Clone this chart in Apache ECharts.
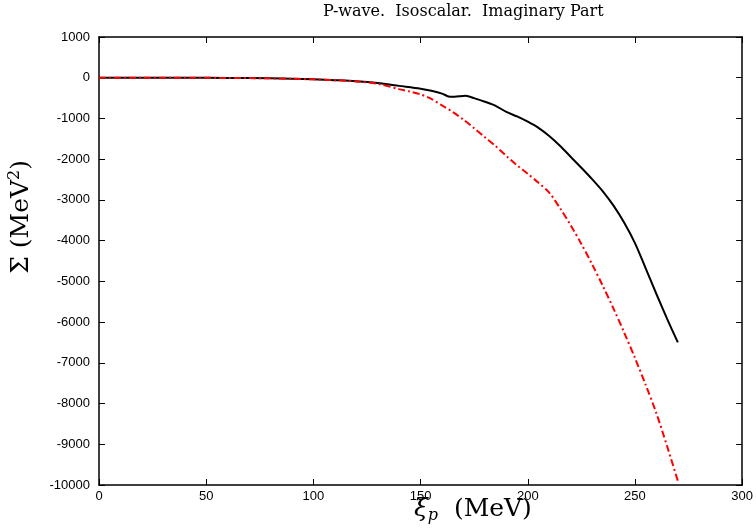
<!DOCTYPE html>
<html><head><meta charset="utf-8">
<script src="https://cdn.jsdelivr.net/npm/echarts@6/dist/echarts.min.js"></script>
<style>html,body{margin:0;padding:0;background:#fff}#c{width:756px;height:529px}</style>
</head><body><div id="c"></div>
<script>
const titleText = 'P-wave.  Isoscalar.  Imaginary Part';
const xTicks = [0, 50, 100, 150, 200, 250, 300];
const yTicks = [1000, 0, -1000, -2000, -3000, -4000, -5000, -6000, -7000, -8000, -9000, -10000];

const blackX = [0, 20, 40, 60, 80, 90, 100, 110, 120, 130, 140, 150, 155, 160, 163, 165, 168, 171, 175, 180, 185, 190, 195, 200, 205, 210, 215, 220, 225, 230, 235, 240, 245, 250, 255, 260, 265, 270];
const blackY = [0, 0, -2, -5, -15, -25, -40, -60, -85, -130, -200, -270, -320, -390, -460, -470, -455, -445, -500, -590, -690, -840, -950, -1080, -1230, -1430, -1670, -1940, -2210, -2490, -2790, -3140, -3560, -4060, -4680, -5310, -5920, -6500];

const redX = [0, 20, 40, 60, 80, 90, 100, 110, 120, 130, 140, 145, 150, 155, 160, 165, 170, 175, 180, 185, 190, 195, 200, 205, 210, 215, 220, 225, 230, 235, 240, 245, 250, 255, 260, 265, 270];
const redY = [0, 0, -2, -5, -15, -25, -40, -60, -90, -150, -280, -340, -410, -520, -680, -840, -1030, -1240, -1460, -1680, -1920, -2150, -2360, -2580, -2820, -3200, -3620, -4080, -4580, -5110, -5670, -6260, -6880, -7540, -8240, -9050, -9900];

const pairs = (xs, ys) => xs.map((x, i) => [x, ys[i]]);
const chart = echarts.init(document.getElementById('c'), null, {renderer: 'canvas'});
const lab = {color: '#000', fontFamily: 'Liberation Sans, Arial, sans-serif', fontSize: 13, formatter: v => String(v)};
const axLine = {show: true, onZero: false, lineStyle: {color: '#000', width: 1.5}};
const tick = {show: true, inside: true, length: 6, lineStyle: {color: '#000', width: 1}};
chart.setOption({
  animation: false,
  backgroundColor: '#fff',
  grid: {left: 99, right: 9, top: 37, bottom: 44, containLabel: false},
  xAxis: [
    {type: 'value', min: xTicks[0], max: xTicks[xTicks.length-1], interval: 50, position: 'bottom',
     axisLine: axLine, axisTick: tick, splitLine: {show: false},
     axisLabel: Object.assign({margin: 5}, lab)},
    {type: 'value', min: xTicks[0], max: xTicks[xTicks.length-1], interval: 50, position: 'top',
     axisLine: axLine, axisTick: tick, splitLine: {show: false}, axisLabel: {show: false}}
  ],
  yAxis: [
    {type: 'value', min: yTicks[yTicks.length-1], max: yTicks[0], interval: 1000, position: 'left',
     axisLine: axLine, axisTick: tick, splitLine: {show: false},
     axisLabel: Object.assign({margin: 9}, lab)},
    {type: 'value', min: yTicks[yTicks.length-1], max: yTicks[0], interval: 1000, position: 'right',
     axisLine: axLine, axisTick: tick, splitLine: {show: false}, axisLabel: {show: false}}
  ],
  graphic: [
    {type: 'text', left: 323, top: 4, z: 10, style: {text: titleText, fill: '#000',
      font: '16px "DejaVu Serif", serif'}},
    {type: 'text', left: 414, top: 497, z: 10, style: {
      rich: {
        xi: {fontFamily: 'DejaVu Serif, serif', fontStyle: 'italic', fontSize: 25, color: '#000'},
        sub: {fontFamily: 'DejaVu Serif, serif', fontStyle: 'italic', fontSize: 16, color: '#000', padding: [12, 0, 0, 0]},
        n: {fontFamily: 'DejaVu Serif, serif', fontSize: 25, color: '#000'}
      },
      text: '{xi|ξ}{sub|p}{n|  (MeV)}'
    }},
    {type: 'text', left: 7, top: 160, z: 10, rotation: Math.PI / 2, originX: 0, originY: 0, style: {
      rich: {
        n: {fontFamily: 'DejaVu Serif, serif', fontSize: 25, color: '#000'},
        sup: {fontFamily: 'DejaVu Serif, serif', fontSize: 16, color: '#000', padding: [0, 0, 12, 0]}
      },
      text: '{n|Σ (MeV}{sup|2}{n|)}'
    }}
  ],
  series: [
    {type: 'line', xAxisIndex: 0, yAxisIndex: 0, data: pairs(blackX, blackY), showSymbol: false, smooth: 0.3,
     lineStyle: {color: '#000', width: 2}, z: 2},
    {type: 'line', xAxisIndex: 0, yAxisIndex: 0, data: pairs(redX, redY), showSymbol: false, smooth: 0.3,
     lineStyle: {color: '#ff0000', width: 2, type: [7, 3, 2, 3]}, z: 3}
  ]
});
</script></body></html>
